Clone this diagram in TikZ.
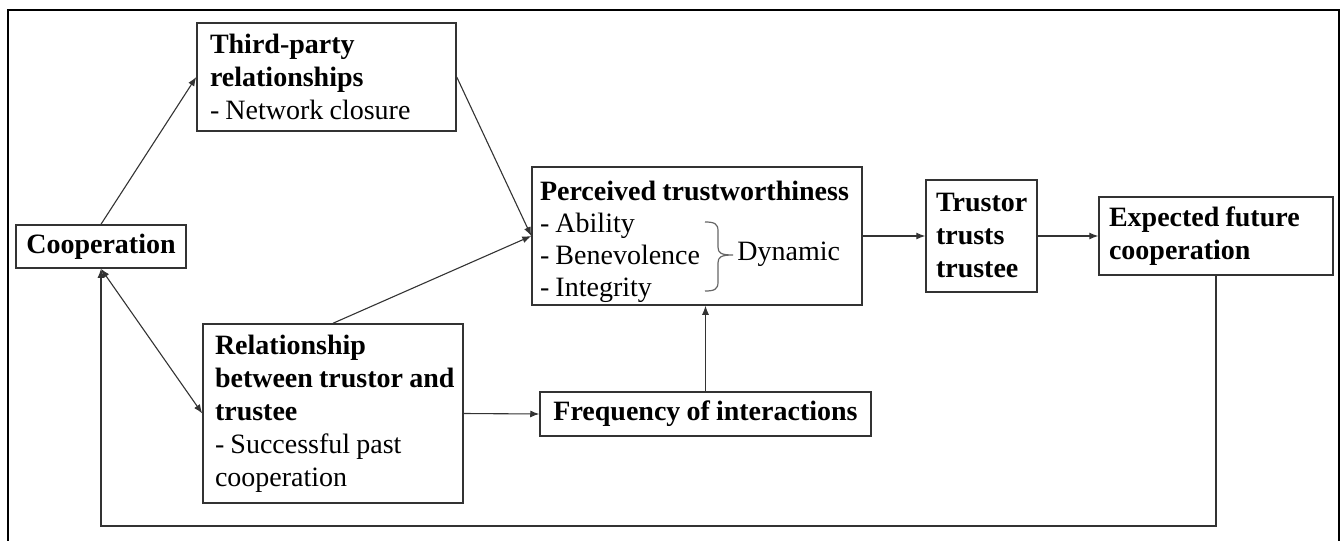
\documentclass[tikz,border=0pt]{standalone}
\usepackage{fontspec}
\setmainfont{Liberation Serif}
\usetikzlibrary{arrows.meta}
\tikzset{
  box/.style={draw=black!80, line width=0.75pt, inner ysep=0pt, align=left, anchor=center,
    font=\fontsize{14}{16.5}\selectfont, execute at begin node={\spaceskip=0.22em\relax\xspaceskip=0.22em\relax}},
  txt/.style={inner sep=0pt, align=left, font=\fontsize{14}{16}\selectfont,
    execute at begin node={\spaceskip=0.22em\relax\xspaceskip=0.22em\relax}},
  conn/.style={draw=black!80, line width=0.55pt, -{Latex[length=4.5pt,width=3.5pt]}},
  frame/.style={draw=black, line width=1pt},
  bracestyle/.style={draw=black!60, line width=0.6pt}
}
\begin{document}
\begin{tikzpicture}[x=0.5pt,y=-0.5pt]
\useasboundingbox (0,0) rectangle (1341,541);
% outer frame (bottom edge lies below the picture)
\draw[frame] (8,541) -- (8,10) -- (1339,10) -- (1339,541);

\node[box, inner xsep=6.5pt, minimum width=129.5pt, minimum height=54pt, text width=116.5pt] (tp) at (326.5,77)
  {\textbf{Third-party}\\\textbf{relationships}\\- Network closure};
\node[box, align=center, inner xsep=4pt, minimum width=85pt, minimum height=21.5pt] (coop) at (101,246.5)
  {\textbf{Cooperation}};
\node[box, minimum width=165pt, minimum height=69pt] (perc) at (697,236) {};
\node[txt, text width=157pt] (perctext) at ([yshift=-3pt]perc.center)
  {\textbf{Perceived trustworthiness}\\- Ability\\- Benevolence\\- Integrity};
\node[box, inner xsep=5pt, minimum width=55.5pt, minimum height=56pt, text width=45.5pt] (trust) at (981.5,236)
  {\textbf{Trustor}\\\textbf{trusts}\\\textbf{trustee}};
\node[box, inner xsep=5pt, minimum width=117pt, minimum height=39pt, text width=107pt] (exp) at (1216,236)
  {\textbf{Expected future}\\\textbf{cooperation}};
\node[box, inner xsep=6pt, minimum width=130pt, minimum height=89.5pt, text width=118pt] (rel) at (333,413.5)
  {\textbf{Relationship}\\\mbox{\textbf{between trustor and}}\\\textbf{trustee}\\- Successful past\\cooperation};
\node[box, align=center, inner xsep=4pt, minimum width=165.5pt, minimum height=22pt] (freq) at (705.5,414)
  {\textbf{Frequency of interactions}};

% brace and label inside the perceived box
\draw[bracestyle] (705,222) .. controls (715,222) and (718,224) .. (718,231) -- (718,247)
  .. controls (718,253) and (721,255) .. (733,255)
  .. controls (721,255) and (718,257) .. (718,263) -- (718,282)
  .. controls (718,289) and (715,291) .. (705,291);
\node[anchor=west, inner sep=0pt, font=\fontsize{14}{16.5}\selectfont] (dyn) at (737,254) {Dynamic};

% connectors
\coordinate (fbr) at (1216,526);
\coordinate (fbl) at (101,526);
\draw[conn] (coop.north) -- (tp.west);
\draw[conn, {Latex[length=4.5pt,width=3.5pt]}-{Latex[length=4.5pt,width=3.5pt]}] (coop.south) -- (rel.west);
\draw[conn] (tp.east) -- (perc.west);
\draw[conn] (rel.north) -- (perc.west);
\draw[conn] (perc.east) -- (trust.west);
\draw[conn] (trust.east) -- (exp.west);
\draw[conn] (rel.east) -- (freq.west);
\draw[conn] (freq.north) -- (freq.north |- perc.south);
\draw[conn] (exp.south) -- (fbr) -- (fbl) -- (coop.south);
\end{tikzpicture}
\end{document}
